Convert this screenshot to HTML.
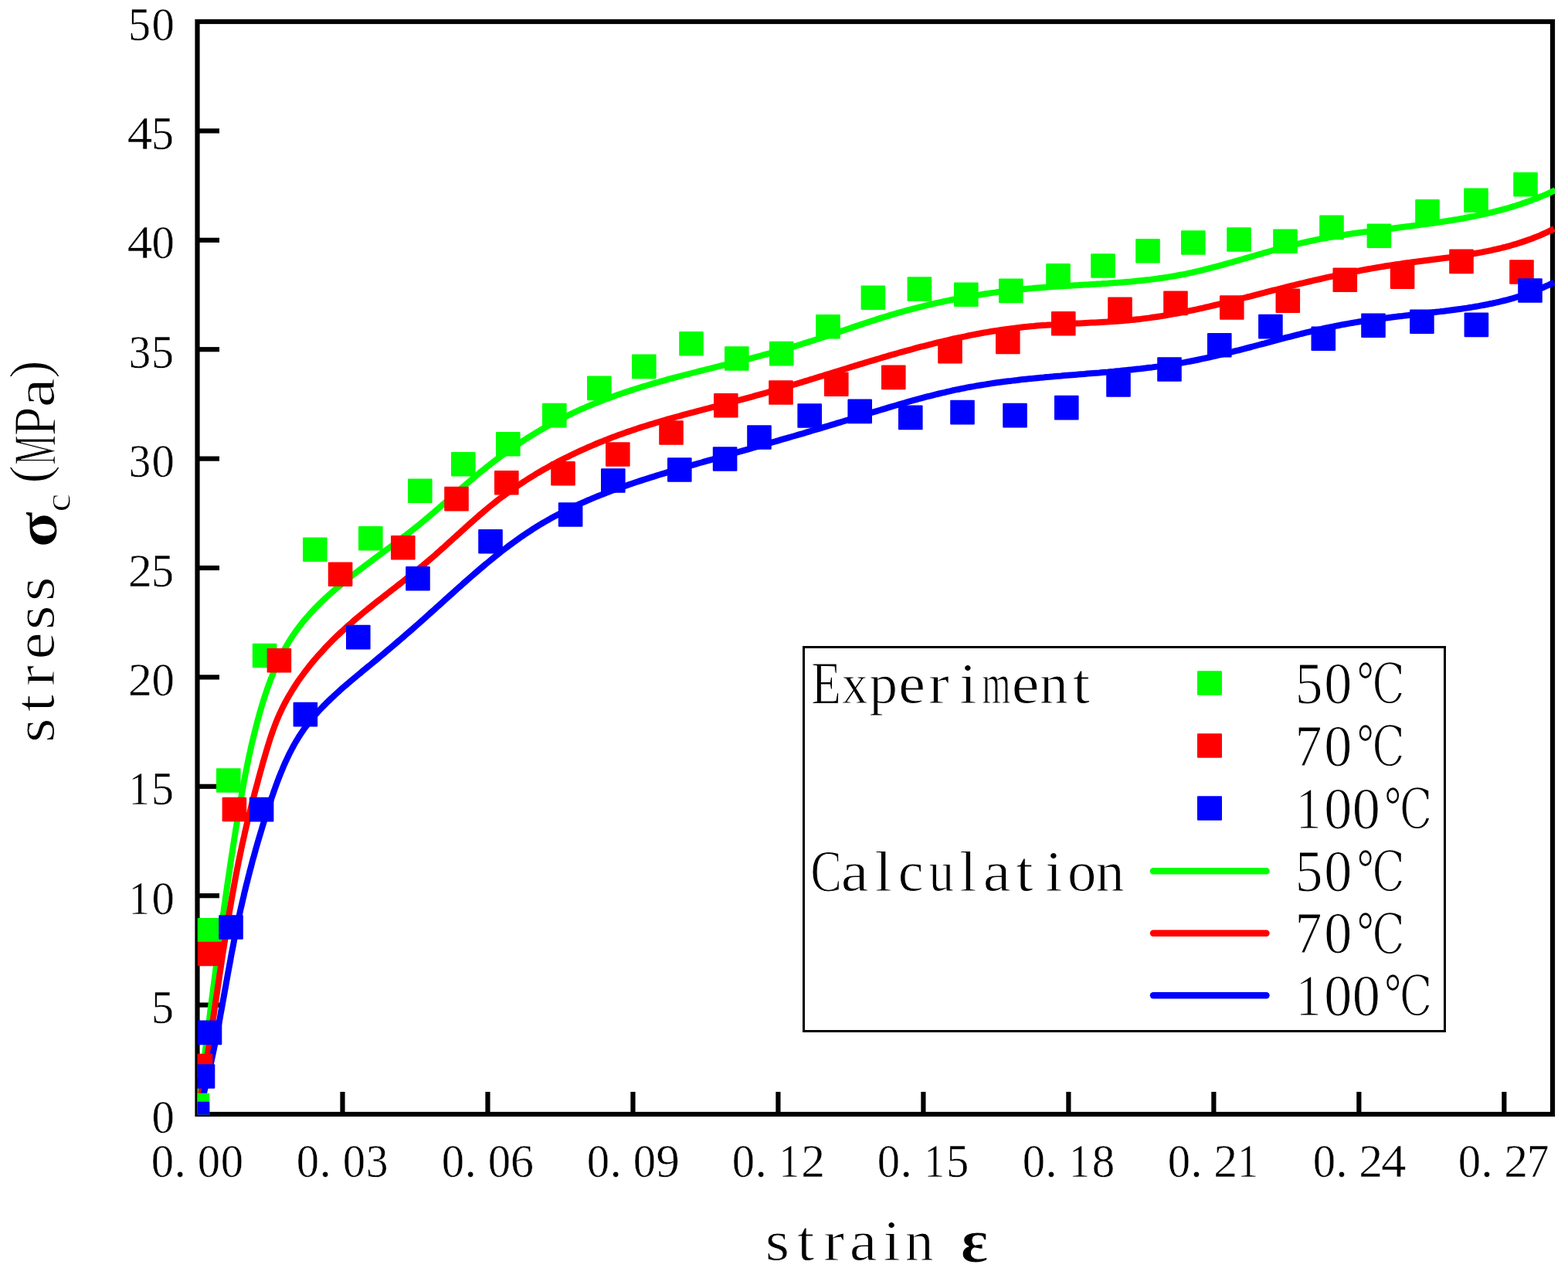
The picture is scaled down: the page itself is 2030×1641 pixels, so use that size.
<!DOCTYPE html>
<html><head><meta charset="utf-8"><title>stress-strain</title><style>html,body{margin:0;padding:0;background:#fff;overflow:hidden}svg{display:block}</style></head><body>
<svg xmlns="http://www.w3.org/2000/svg" width="2030" height="1641" viewBox="0 0 2030 1641">
<rect width="2030" height="1641" fill="#fff"/>
<defs><clipPath id="pc"><rect x="255.5" y="28" width="1757.5" height="1414.5"/></clipPath></defs>
<g><rect x="255.50" y="28" width="1754.50" height="1414" fill="none" stroke="#000" stroke-width="6.20"/><line x1="443.48" y1="1442" x2="443.48" y2="1413" stroke="#000" stroke-width="6.20"/><line x1="631.46" y1="1442" x2="631.46" y2="1413" stroke="#000" stroke-width="6.20"/><line x1="819.45" y1="1442" x2="819.45" y2="1413" stroke="#000" stroke-width="6.20"/><line x1="1007.43" y1="1442" x2="1007.43" y2="1413" stroke="#000" stroke-width="6.20"/><line x1="1195.41" y1="1442" x2="1195.41" y2="1413" stroke="#000" stroke-width="6.20"/><line x1="1383.39" y1="1442" x2="1383.39" y2="1413" stroke="#000" stroke-width="6.20"/><line x1="1571.37" y1="1442" x2="1571.37" y2="1413" stroke="#000" stroke-width="6.20"/><line x1="1759.36" y1="1442" x2="1759.36" y2="1413" stroke="#000" stroke-width="6.20"/><line x1="1947.34" y1="1442" x2="1947.34" y2="1413" stroke="#000" stroke-width="6.20"/><line x1="255.5" y1="1300.60" x2="284" y2="1300.60" stroke="#000" stroke-width="6.20"/><line x1="255.5" y1="1159.20" x2="284" y2="1159.20" stroke="#000" stroke-width="6.20"/><line x1="255.5" y1="1017.80" x2="284" y2="1017.80" stroke="#000" stroke-width="6.20"/><line x1="255.5" y1="876.40" x2="284" y2="876.40" stroke="#000" stroke-width="6.20"/><line x1="255.5" y1="735.00" x2="284" y2="735.00" stroke="#000" stroke-width="6.20"/><line x1="255.5" y1="593.60" x2="284" y2="593.60" stroke="#000" stroke-width="6.20"/><line x1="255.5" y1="452.20" x2="284" y2="452.20" stroke="#000" stroke-width="6.20"/><line x1="255.5" y1="310.80" x2="284" y2="310.80" stroke="#000" stroke-width="6.20"/><line x1="255.5" y1="169.40" x2="284" y2="169.40" stroke="#000" stroke-width="6.20"/></g>
<g clip-path="url(#pc)"><path d="M255.2 1442.0 L255.7 1438.0 L256.2 1434.0 L256.7 1430.0 L257.2 1426.0 L257.8 1422.0 L258.3 1418.0 L258.8 1414.0 L259.3 1410.0 L259.8 1406.0 L260.3 1402.0 L260.9 1398.0 L261.4 1394.0 L261.9 1390.0 L262.4 1386.0 L262.9 1382.1 L263.4 1378.1 L263.9 1374.1 L264.4 1370.1 L264.9 1366.1 L265.5 1362.1 L266.0 1358.1 L266.5 1354.1 L267.0 1350.1 L267.5 1346.1 L268.0 1342.1 L268.5 1338.1 L269.0 1334.1 L269.5 1330.1 L270.0 1326.1 L270.5 1322.1 L271.1 1318.1 L271.6 1314.1 L272.1 1310.1 L272.6 1306.1 L273.1 1302.2 L273.6 1298.2 L274.1 1294.2 L274.7 1290.2 L275.2 1286.2 L275.7 1282.2 L276.2 1278.2 L276.7 1274.2 L277.2 1270.2 L277.8 1266.2 L278.3 1262.2 L278.8 1258.2 L279.3 1254.3 L279.9 1250.3 L280.4 1246.3 L280.9 1242.3 L281.4 1238.3 L282.0 1234.3 L282.5 1230.3 L283.0 1226.3 L283.6 1222.3 L284.1 1218.4 L284.6 1214.4 L285.2 1210.4 L285.7 1206.4 L286.3 1202.4 L286.8 1198.4 L287.4 1194.4 L287.9 1190.5 L288.5 1186.5 L289.0 1182.5 L289.6 1178.5 L290.1 1174.5 L290.7 1170.6 L291.3 1166.6 L291.8 1162.6 L292.4 1158.6 L293.0 1154.6 L293.6 1150.7 L294.1 1146.7 L294.7 1142.7 L295.3 1138.7 L295.9 1134.7 L296.5 1130.8 L297.1 1126.8 L297.6 1122.8 L298.2 1118.8 L298.8 1114.9 L299.4 1110.9 L300.0 1106.9 L300.7 1102.9 L301.3 1099.0 L301.9 1095.0 L302.5 1091.0 L303.1 1087.1 L303.7 1083.1 L304.4 1079.1 L305.0 1075.2 L305.6 1071.2 L306.3 1067.2 L306.9 1063.3 L307.6 1059.3 L308.2 1055.3 L308.9 1051.4 L309.5 1047.4 L310.2 1043.4 L310.9 1039.5 L311.6 1035.5 L312.3 1031.6 L313.0 1027.6 L313.7 1023.7 L314.4 1019.7 L315.1 1015.7 L315.8 1011.8 L316.6 1007.8 L317.3 1003.9 L318.1 999.9 L318.9 996.0 L319.7 992.0 L320.5 988.1 L321.3 984.1 L322.1 980.2 L323.0 976.2 L323.9 972.3 L324.7 968.4 L325.6 964.4 L326.5 960.5 L327.5 956.5 L328.4 952.6 L329.4 948.7 L330.4 944.7 L331.4 940.8 L332.4 936.9 L333.4 932.9 L334.5 929.0 L335.6 925.1 L336.7 921.2 L337.8 917.3 L339.0 913.3 L340.2 909.4 L341.4 905.5 L342.6 901.7 L343.9 897.8 L345.2 893.9 L346.5 890.1 L347.9 886.3 L349.3 882.5 L350.7 878.7 L352.2 874.9 L353.7 871.2 L355.3 867.4 L356.9 863.7 L358.5 860.1 L360.2 856.4 L361.9 852.8 L363.7 849.2 L365.5 845.7 L367.4 842.1 L369.3 838.7 L371.3 835.2 L373.3 831.8 L375.4 828.4 L377.5 825.1 L379.7 821.8 L381.9 818.5 L384.2 815.3 L386.6 812.1 L389.0 809.0 L391.4 805.9 L393.9 802.8 L396.5 799.8 L399.1 796.8 L401.7 793.9 L404.4 791.0 L407.1 788.1 L409.9 785.2 L412.7 782.4 L415.5 779.6 L418.4 776.9 L421.3 774.1 L424.3 771.4 L427.2 768.8 L430.3 766.1 L433.3 763.5 L436.3 760.8 L439.4 758.3 L442.5 755.7 L445.6 753.1 L448.8 750.6 L451.9 748.1 L455.1 745.6 L458.3 743.1 L461.5 740.6 L464.7 738.1 L467.9 735.7 L471.2 733.2 L474.4 730.8 L477.6 728.4 L480.9 726.0 L484.1 723.5 L487.4 721.1 L490.6 718.7 L493.9 716.3 L497.1 713.9 L500.4 711.5 L503.6 709.1 L506.9 706.7 L510.1 704.3 L513.3 701.8 L516.5 699.4 L519.8 697.0 L523.0 694.5 L526.2 692.1 L529.3 689.6 L532.5 687.1 L535.7 684.6 L538.8 682.1 L542.0 679.6 L545.1 677.0 L548.2 674.5 L551.3 671.9 L554.4 669.3 L557.4 666.7 L560.5 664.1 L563.5 661.5 L566.6 658.9 L569.6 656.2 L572.6 653.6 L575.7 651.0 L578.7 648.3 L581.7 645.7 L584.7 643.0 L587.8 640.4 L590.8 637.7 L593.8 635.1 L596.8 632.5 L599.9 629.8 L602.9 627.2 L606.0 624.6 L609.0 622.0 L612.1 619.4 L615.2 616.8 L618.2 614.2 L621.3 611.6 L624.4 609.1 L627.6 606.6 L630.7 604.0 L633.9 601.6 L637.0 599.1 L640.2 596.6 L643.4 594.2 L646.7 591.8 L649.9 589.4 L653.2 587.0 L656.4 584.7 L659.7 582.3 L663.0 580.0 L666.4 577.8 L669.7 575.5 L673.1 573.3 L676.4 571.0 L679.8 568.9 L683.2 566.7 L686.6 564.6 L690.1 562.4 L693.5 560.3 L697.0 558.3 L700.4 556.2 L703.9 554.2 L707.4 552.2 L710.9 550.3 L714.5 548.3 L718.0 546.4 L721.6 544.6 L725.1 542.7 L728.7 540.9 L732.3 539.1 L735.9 537.3 L739.5 535.6 L743.2 533.8 L746.8 532.2 L750.4 530.5 L754.1 528.9 L757.8 527.3 L761.5 525.7 L765.1 524.2 L768.8 522.6 L772.6 521.1 L776.3 519.7 L780.0 518.2 L783.8 516.8 L787.5 515.4 L791.3 514.0 L795.0 512.7 L798.8 511.3 L802.6 510.0 L806.4 508.7 L810.2 507.4 L814.0 506.2 L817.8 504.9 L821.6 503.7 L825.4 502.5 L829.3 501.3 L833.1 500.1 L837.0 499.0 L840.8 497.8 L844.7 496.7 L848.5 495.6 L852.4 494.5 L856.3 493.4 L860.2 492.3 L864.0 491.2 L867.9 490.2 L871.8 489.1 L875.7 488.1 L879.6 487.0 L883.5 486.0 L887.4 485.0 L891.3 484.0 L895.2 483.0 L899.1 482.0 L903.0 481.0 L907.0 480.0 L910.9 479.0 L914.8 478.0 L918.7 477.1 L922.6 476.1 L926.6 475.1 L930.5 474.1 L934.4 473.1 L938.3 472.2 L942.2 471.2 L946.2 470.2 L950.1 469.2 L954.0 468.3 L957.9 467.3 L961.8 466.3 L965.8 465.3 L969.7 464.3 L973.6 463.3 L977.5 462.3 L981.4 461.3 L985.3 460.3 L989.2 459.2 L993.1 458.2 L997.0 457.1 L1000.9 456.1 L1004.8 455.0 L1008.7 453.9 L1012.6 452.8 L1016.4 451.7 L1020.3 450.6 L1024.2 449.5 L1028.1 448.4 L1031.9 447.2 L1035.8 446.0 L1039.6 444.8 L1043.4 443.6 L1047.3 442.4 L1051.1 441.2 L1054.9 440.0 L1058.8 438.7 L1062.6 437.5 L1066.4 436.2 L1070.2 435.0 L1074.0 433.7 L1077.8 432.4 L1081.6 431.1 L1085.5 429.8 L1089.3 428.5 L1093.1 427.3 L1096.9 426.0 L1100.7 424.7 L1104.5 423.4 L1108.3 422.1 L1112.1 420.9 L1115.9 419.6 L1119.7 418.3 L1123.5 417.1 L1127.3 415.8 L1131.2 414.6 L1135.0 413.4 L1138.8 412.1 L1142.6 410.9 L1146.5 409.8 L1150.3 408.6 L1154.1 407.4 L1158.0 406.3 L1161.8 405.2 L1165.7 404.1 L1169.6 403.0 L1173.4 401.9 L1177.3 400.8 L1181.2 399.8 L1185.1 398.8 L1189.0 397.8 L1192.9 396.8 L1196.8 395.9 L1200.7 394.9 L1204.6 394.0 L1208.5 393.1 L1212.4 392.2 L1216.4 391.3 L1220.3 390.5 L1224.2 389.6 L1228.2 388.8 L1232.1 388.0 L1236.1 387.2 L1240.0 386.4 L1244.0 385.7 L1247.9 385.0 L1251.9 384.2 L1255.8 383.5 L1259.8 382.9 L1263.8 382.2 L1267.8 381.6 L1271.7 380.9 L1275.7 380.3 L1279.7 379.7 L1283.7 379.1 L1287.7 378.6 L1291.7 378.0 L1295.7 377.5 L1299.7 377.0 L1303.7 376.5 L1307.7 376.0 L1311.7 375.6 L1315.7 375.1 L1319.7 374.7 L1323.7 374.3 L1327.8 373.9 L1331.8 373.5 L1335.8 373.2 L1339.8 372.8 L1343.9 372.5 L1347.9 372.2 L1351.9 371.9 L1355.9 371.6 L1360.0 371.3 L1364.0 371.0 L1368.0 370.8 L1372.0 370.5 L1376.1 370.3 L1380.1 370.0 L1384.1 369.8 L1388.2 369.5 L1392.2 369.3 L1396.2 369.1 L1400.3 368.8 L1404.3 368.6 L1408.3 368.4 L1412.3 368.1 L1416.4 367.9 L1420.4 367.6 L1424.4 367.4 L1428.4 367.1 L1432.5 366.9 L1436.5 366.6 L1440.5 366.3 L1444.5 366.0 L1448.5 365.7 L1452.5 365.4 L1456.5 365.1 L1460.5 364.7 L1464.5 364.4 L1468.5 364.0 L1472.5 363.6 L1476.5 363.2 L1480.5 362.8 L1484.5 362.3 L1488.5 361.9 L1492.5 361.4 L1496.4 360.9 L1500.4 360.3 L1504.4 359.8 L1508.3 359.2 L1512.3 358.6 L1516.2 357.9 L1520.2 357.3 L1524.1 356.5 L1528.1 355.8 L1532.0 355.1 L1535.9 354.3 L1539.9 353.4 L1543.8 352.6 L1547.7 351.7 L1551.6 350.8 L1555.5 349.9 L1559.4 348.9 L1563.3 347.9 L1567.2 346.9 L1571.1 345.9 L1575.0 344.9 L1578.8 343.8 L1582.7 342.8 L1586.6 341.7 L1590.5 340.6 L1594.4 339.5 L1598.3 338.4 L1602.1 337.3 L1606.0 336.2 L1609.9 335.0 L1613.8 333.9 L1617.6 332.8 L1621.5 331.7 L1625.4 330.5 L1629.3 329.4 L1633.2 328.3 L1637.0 327.2 L1640.9 326.1 L1644.8 325.0 L1648.7 323.9 L1652.6 322.8 L1656.5 321.7 L1660.4 320.7 L1664.3 319.7 L1668.2 318.6 L1672.1 317.6 L1676.0 316.7 L1679.9 315.7 L1683.8 314.8 L1687.8 313.9 L1691.7 313.0 L1695.6 312.1 L1699.6 311.3 L1703.5 310.5 L1707.5 309.7 L1711.4 308.9 L1715.4 308.2 L1719.4 307.5 L1723.3 306.8 L1727.3 306.1 L1731.3 305.4 L1735.3 304.8 L1739.3 304.1 L1743.2 303.5 L1747.2 302.9 L1751.2 302.3 L1755.2 301.8 L1759.2 301.2 L1763.2 300.6 L1767.2 300.1 L1771.2 299.6 L1775.2 299.0 L1779.2 298.5 L1783.2 298.0 L1787.2 297.5 L1791.2 297.0 L1795.2 296.5 L1799.2 296.0 L1803.2 295.5 L1807.2 295.0 L1811.2 294.5 L1815.2 294.0 L1819.2 293.5 L1823.2 293.0 L1827.2 292.5 L1831.2 292.0 L1835.2 291.5 L1839.2 290.9 L1843.2 290.4 L1847.2 289.9 L1851.2 289.3 L1855.2 288.8 L1859.1 288.2 L1863.1 287.6 L1867.1 287.0 L1871.0 286.4 L1875.0 285.8 L1879.0 285.2 L1882.9 284.5 L1886.9 283.9 L1890.8 283.2 L1894.8 282.5 L1898.7 281.7 L1902.6 281.0 L1906.6 280.2 L1910.5 279.4 L1914.4 278.6 L1918.3 277.8 L1922.2 276.9 L1926.1 276.0 L1930.0 275.1 L1933.9 274.1 L1937.7 273.2 L1941.6 272.2 L1945.5 271.1 L1949.3 270.1 L1953.2 269.0 L1957.0 267.8 L1960.8 266.7 L1964.6 265.5 L1968.4 264.2 L1972.2 262.9 L1976.0 261.6 L1979.8 260.3 L1983.6 258.9 L1987.3 257.4 L1991.1 256.0 L1994.8 254.4 L1998.6 252.9 L2002.3 251.3 L2006.0 249.6 L2009.7 247.9 L2013.4 246.2" fill="none" stroke="#00ff00" stroke-width="8.0" stroke-linejoin="round"/><path d="M255.2 1441.9 L256.0 1438.1 L256.7 1434.2 L257.5 1430.4 L258.2 1426.5 L258.9 1422.7 L259.6 1418.8 L260.3 1415.0 L261.0 1411.1 L261.7 1407.2 L262.3 1403.4 L263.0 1399.5 L263.7 1395.6 L264.3 1391.8 L265.0 1387.9 L265.6 1384.0 L266.3 1380.2 L266.9 1376.3 L267.5 1372.4 L268.2 1368.6 L268.8 1364.7 L269.4 1360.8 L270.0 1356.9 L270.6 1353.1 L271.2 1349.2 L271.8 1345.3 L272.4 1341.4 L273.0 1337.5 L273.6 1333.6 L274.2 1329.8 L274.8 1325.9 L275.4 1322.0 L276.0 1318.1 L276.6 1314.2 L277.1 1310.3 L277.7 1306.5 L278.3 1302.6 L278.9 1298.7 L279.4 1294.8 L280.0 1290.9 L280.6 1287.0 L281.2 1283.1 L281.7 1279.2 L282.3 1275.4 L282.9 1271.5 L283.5 1267.6 L284.0 1263.7 L284.6 1259.8 L285.2 1255.9 L285.8 1252.0 L286.3 1248.2 L286.9 1244.3 L287.5 1240.4 L288.1 1236.5 L288.7 1232.6 L289.3 1228.7 L289.9 1224.9 L290.5 1221.0 L291.1 1217.1 L291.7 1213.2 L292.3 1209.3 L292.9 1205.5 L293.5 1201.6 L294.2 1197.7 L294.8 1193.8 L295.4 1190.0 L296.1 1186.1 L296.7 1182.2 L297.3 1178.4 L298.0 1174.5 L298.7 1170.6 L299.3 1166.8 L300.0 1162.9 L300.7 1159.0 L301.4 1155.2 L302.1 1151.3 L302.8 1147.5 L303.5 1143.6 L304.2 1139.8 L304.9 1135.9 L305.6 1132.1 L306.4 1128.2 L307.1 1124.4 L307.9 1120.5 L308.6 1116.7 L309.4 1112.9 L310.2 1109.0 L311.0 1105.2 L311.8 1101.4 L312.6 1097.6 L313.4 1093.7 L314.3 1089.9 L315.1 1086.1 L316.0 1082.3 L316.8 1078.5 L317.7 1074.7 L318.6 1070.9 L319.5 1067.0 L320.4 1063.2 L321.3 1059.4 L322.3 1055.6 L323.2 1051.8 L324.2 1048.1 L325.1 1044.3 L326.1 1040.5 L327.1 1036.7 L328.0 1032.9 L329.0 1029.1 L330.0 1025.3 L331.0 1021.5 L332.1 1017.7 L333.1 1013.9 L334.1 1010.1 L335.1 1006.3 L336.2 1002.4 L337.2 998.6 L338.3 994.8 L339.3 991.0 L340.4 987.2 L341.5 983.4 L342.6 979.6 L343.7 975.8 L344.8 972.0 L346.0 968.2 L347.1 964.4 L348.3 960.6 L349.5 956.8 L350.8 953.0 L352.0 949.3 L353.3 945.6 L354.7 941.9 L356.1 938.2 L357.5 934.5 L359.0 930.9 L360.5 927.3 L362.1 923.7 L363.8 920.2 L365.4 916.6 L367.2 913.2 L369.0 909.7 L370.8 906.3 L372.7 902.9 L374.7 899.5 L376.7 896.2 L378.7 892.8 L380.8 889.5 L382.9 886.3 L385.0 883.0 L387.2 879.8 L389.5 876.7 L391.8 873.5 L394.1 870.4 L396.4 867.3 L398.8 864.2 L401.3 861.1 L403.7 858.1 L406.2 855.1 L408.8 852.1 L411.3 849.2 L413.9 846.3 L416.6 843.4 L419.2 840.5 L421.9 837.6 L424.6 834.8 L427.3 832.0 L430.1 829.2 L432.9 826.4 L435.7 823.7 L438.5 821.0 L441.4 818.3 L444.3 815.6 L447.2 813.0 L450.1 810.3 L453.0 807.7 L456.0 805.2 L458.9 802.6 L461.9 800.0 L464.9 797.5 L467.9 795.0 L470.9 792.5 L474.0 790.0 L477.0 787.5 L480.1 785.1 L483.1 782.6 L486.2 780.2 L489.3 777.7 L492.4 775.3 L495.5 772.9 L498.6 770.5 L501.7 768.0 L504.8 765.6 L507.9 763.2 L511.0 760.8 L514.1 758.4 L517.2 756.0 L520.3 753.5 L523.4 751.1 L526.4 748.7 L529.5 746.2 L532.6 743.8 L535.7 741.3 L538.7 738.9 L541.8 736.4 L544.8 733.9 L547.9 731.4 L550.9 728.9 L553.9 726.4 L556.9 723.8 L559.9 721.2 L562.9 718.7 L565.8 716.1 L568.8 713.4 L571.7 710.8 L574.7 708.2 L577.6 705.6 L580.5 702.9 L583.4 700.3 L586.3 697.6 L589.3 695.0 L592.2 692.3 L595.1 689.7 L598.0 687.0 L600.9 684.4 L603.8 681.7 L606.8 679.1 L609.7 676.5 L612.6 673.9 L615.6 671.3 L618.6 668.7 L621.5 666.1 L624.5 663.6 L627.5 661.0 L630.5 658.5 L633.5 656.0 L636.6 653.5 L639.6 651.1 L642.7 648.6 L645.8 646.2 L648.9 643.9 L652.1 641.5 L655.2 639.2 L658.4 636.9 L661.6 634.6 L664.8 632.4 L668.0 630.1 L671.2 627.9 L674.5 625.8 L677.8 623.6 L681.1 621.5 L684.4 619.4 L687.7 617.3 L691.0 615.3 L694.4 613.2 L697.8 611.2 L701.1 609.3 L704.5 607.3 L708.0 605.4 L711.4 603.5 L714.8 601.6 L718.3 599.7 L721.8 597.9 L725.2 596.1 L728.7 594.3 L732.2 592.5 L735.8 590.8 L739.3 589.0 L742.8 587.3 L746.4 585.7 L749.9 584.0 L753.5 582.4 L757.1 580.8 L760.7 579.2 L764.3 577.6 L767.9 576.1 L771.5 574.5 L775.1 573.0 L778.8 571.6 L782.4 570.1 L786.1 568.7 L789.7 567.2 L793.4 565.8 L797.1 564.5 L800.8 563.1 L804.5 561.8 L808.2 560.4 L811.9 559.1 L815.6 557.9 L819.3 556.6 L823.0 555.4 L826.7 554.1 L830.4 552.9 L834.2 551.7 L837.9 550.6 L841.7 549.4 L845.4 548.3 L849.2 547.1 L852.9 546.0 L856.7 544.9 L860.4 543.8 L864.2 542.7 L868.0 541.6 L871.7 540.6 L875.5 539.5 L879.3 538.5 L883.1 537.4 L886.8 536.4 L890.6 535.4 L894.4 534.4 L898.2 533.4 L902.0 532.3 L905.8 531.3 L909.6 530.3 L913.4 529.3 L917.2 528.4 L921.0 527.4 L924.8 526.4 L928.5 525.4 L932.3 524.4 L936.1 523.4 L939.9 522.4 L943.7 521.4 L947.5 520.4 L951.3 519.4 L955.1 518.4 L958.9 517.4 L962.7 516.4 L966.5 515.3 L970.3 514.3 L974.1 513.3 L977.9 512.2 L981.7 511.2 L985.4 510.1 L989.2 509.1 L993.0 508.0 L996.8 506.9 L1000.6 505.8 L1004.3 504.7 L1008.1 503.6 L1011.9 502.5 L1015.6 501.4 L1019.4 500.2 L1023.2 499.1 L1026.9 498.0 L1030.7 496.9 L1034.5 495.7 L1038.2 494.6 L1042.0 493.4 L1045.8 492.3 L1049.5 491.1 L1053.3 490.0 L1057.0 488.8 L1060.8 487.6 L1064.6 486.5 L1068.3 485.3 L1072.1 484.2 L1075.8 483.0 L1079.6 481.8 L1083.4 480.7 L1087.1 479.5 L1090.9 478.4 L1094.6 477.2 L1098.4 476.0 L1102.1 474.9 L1105.9 473.7 L1109.7 472.6 L1113.4 471.4 L1117.2 470.3 L1120.9 469.2 L1124.7 468.0 L1128.5 466.9 L1132.2 465.8 L1136.0 464.7 L1139.8 463.5 L1143.5 462.4 L1147.3 461.3 L1151.1 460.2 L1154.8 459.2 L1158.6 458.1 L1162.4 457.0 L1166.1 455.9 L1169.9 454.9 L1173.7 453.8 L1177.5 452.8 L1181.3 451.8 L1185.0 450.7 L1188.8 449.7 L1192.6 448.7 L1196.4 447.8 L1200.2 446.8 L1204.0 445.8 L1207.8 444.9 L1211.6 443.9 L1215.4 443.0 L1219.2 442.1 L1223.0 441.2 L1226.8 440.3 L1230.6 439.4 L1234.4 438.5 L1238.2 437.7 L1242.0 436.9 L1245.9 436.1 L1249.7 435.3 L1253.5 434.5 L1257.4 433.7 L1261.2 433.0 L1265.0 432.2 L1268.9 431.5 L1272.7 430.8 L1276.6 430.1 L1280.4 429.5 L1284.3 428.8 L1288.1 428.2 L1292.0 427.6 L1295.9 427.0 L1299.7 426.4 L1303.6 425.9 L1307.5 425.4 L1311.4 424.9 L1315.3 424.4 L1319.1 423.9 L1323.0 423.5 L1326.9 423.1 L1330.8 422.7 L1334.8 422.3 L1338.7 422.0 L1342.6 421.6 L1346.5 421.3 L1350.4 421.0 L1354.4 420.8 L1358.3 420.5 L1362.2 420.3 L1366.2 420.0 L1370.1 419.8 L1374.0 419.6 L1378.0 419.4 L1381.9 419.2 L1385.9 419.0 L1389.8 418.8 L1393.8 418.6 L1397.7 418.4 L1401.7 418.2 L1405.6 418.0 L1409.6 417.8 L1413.5 417.6 L1417.4 417.4 L1421.4 417.2 L1425.3 417.0 L1429.3 416.8 L1433.2 416.6 L1437.2 416.3 L1441.1 416.0 L1445.0 415.8 L1448.9 415.5 L1452.9 415.2 L1456.8 414.8 L1460.7 414.5 L1464.6 414.1 L1468.5 413.7 L1472.4 413.3 L1476.3 412.9 L1480.2 412.4 L1484.1 411.9 L1488.0 411.4 L1491.9 410.8 L1495.8 410.3 L1499.6 409.7 L1503.5 409.1 L1507.4 408.5 L1511.2 407.8 L1515.1 407.1 L1518.9 406.4 L1522.8 405.7 L1526.6 405.0 L1530.5 404.2 L1534.3 403.5 L1538.2 402.7 L1542.0 401.9 L1545.8 401.1 L1549.6 400.3 L1553.5 399.4 L1557.3 398.6 L1561.1 397.7 L1564.9 396.8 L1568.8 395.9 L1572.6 395.0 L1576.4 394.1 L1580.2 393.2 L1584.0 392.2 L1587.8 391.3 L1591.6 390.3 L1595.4 389.4 L1599.2 388.4 L1603.0 387.5 L1606.8 386.5 L1610.7 385.5 L1614.5 384.5 L1618.3 383.6 L1622.1 382.6 L1625.9 381.6 L1629.7 380.6 L1633.5 379.6 L1637.3 378.7 L1641.1 377.7 L1644.9 376.7 L1648.7 375.7 L1652.5 374.8 L1656.3 373.8 L1660.1 372.8 L1663.9 371.9 L1667.7 370.9 L1671.5 370.0 L1675.3 369.1 L1679.1 368.1 L1682.9 367.2 L1686.8 366.3 L1690.6 365.4 L1694.4 364.5 L1698.2 363.6 L1702.0 362.7 L1705.8 361.8 L1709.7 361.0 L1713.5 360.1 L1717.3 359.2 L1721.1 358.4 L1725.0 357.6 L1728.8 356.7 L1732.6 355.9 L1736.5 355.1 L1740.3 354.3 L1744.1 353.5 L1748.0 352.7 L1751.8 352.0 L1755.7 351.2 L1759.5 350.5 L1763.4 349.7 L1767.2 349.0 L1771.1 348.3 L1774.9 347.6 L1778.8 346.9 L1782.7 346.3 L1786.5 345.6 L1790.4 345.0 L1794.3 344.3 L1798.1 343.7 L1802.0 343.1 L1805.9 342.5 L1809.8 341.9 L1813.7 341.4 L1817.6 340.8 L1821.4 340.3 L1825.3 339.8 L1829.2 339.2 L1833.1 338.7 L1837.0 338.2 L1840.9 337.7 L1844.8 337.2 L1848.7 336.7 L1852.6 336.2 L1856.5 335.7 L1860.4 335.2 L1864.3 334.7 L1868.2 334.2 L1872.1 333.7 L1876.0 333.2 L1879.9 332.6 L1883.8 332.1 L1887.7 331.5 L1891.6 330.9 L1895.4 330.3 L1899.3 329.7 L1903.2 329.1 L1907.0 328.5 L1910.9 327.8 L1914.7 327.1 L1918.6 326.4 L1922.4 325.6 L1926.3 324.9 L1930.1 324.1 L1933.9 323.2 L1937.7 322.4 L1941.5 321.5 L1945.3 320.5 L1949.1 319.6 L1952.9 318.6 L1956.7 317.5 L1960.4 316.4 L1964.2 315.3 L1967.9 314.1 L1971.6 312.9 L1975.4 311.6 L1979.1 310.3 L1982.8 309.0 L1986.4 307.6 L1990.1 306.1 L1993.8 304.6 L1997.4 303.0 L2001.0 301.4 L2004.7 299.7 L2008.3 297.9 L2011.9 296.1" fill="none" stroke="#ff0000" stroke-width="8.0" stroke-linejoin="round"/><path d="M256.3 1442.1 L257.4 1438.5 L258.4 1434.8 L259.5 1431.2 L260.5 1427.5 L261.5 1423.8 L262.4 1420.2 L263.4 1416.5 L264.4 1412.8 L265.3 1409.2 L266.2 1405.5 L267.1 1401.8 L268.0 1398.1 L268.9 1394.5 L269.7 1390.8 L270.6 1387.1 L271.4 1383.4 L272.2 1379.7 L273.0 1376.0 L273.9 1372.3 L274.6 1368.6 L275.4 1364.9 L276.2 1361.2 L277.0 1357.5 L277.7 1353.8 L278.5 1350.1 L279.2 1346.4 L279.9 1342.7 L280.6 1338.9 L281.4 1335.2 L282.1 1331.5 L282.8 1327.8 L283.5 1324.1 L284.2 1320.4 L284.9 1316.6 L285.5 1312.9 L286.2 1309.2 L286.9 1305.5 L287.6 1301.7 L288.2 1298.0 L288.9 1294.3 L289.6 1290.5 L290.3 1286.8 L290.9 1283.1 L291.6 1279.4 L292.3 1275.6 L292.9 1271.9 L293.6 1268.2 L294.3 1264.4 L294.9 1260.7 L295.6 1257.0 L296.3 1253.2 L297.0 1249.5 L297.7 1245.8 L298.4 1242.0 L299.0 1238.3 L299.7 1234.6 L300.4 1230.9 L301.2 1227.1 L301.9 1223.4 L302.6 1219.7 L303.3 1215.9 L304.1 1212.2 L304.8 1208.5 L305.6 1204.8 L306.3 1201.0 L307.1 1197.3 L307.9 1193.6 L308.7 1189.9 L309.5 1186.1 L310.3 1182.4 L311.1 1178.7 L311.9 1175.0 L312.8 1171.3 L313.6 1167.6 L314.5 1163.8 L315.4 1160.1 L316.2 1156.4 L317.1 1152.7 L318.0 1149.0 L318.9 1145.3 L319.9 1141.6 L320.8 1137.9 L321.7 1134.2 L322.7 1130.5 L323.6 1126.8 L324.6 1123.1 L325.6 1119.4 L326.5 1115.7 L327.5 1112.0 L328.6 1108.4 L329.6 1104.7 L330.6 1101.0 L331.6 1097.3 L332.7 1093.6 L333.7 1090.0 L334.8 1086.3 L335.9 1082.6 L337.0 1079.0 L338.1 1075.3 L339.2 1071.6 L340.3 1068.0 L341.4 1064.3 L342.6 1060.7 L343.7 1057.0 L344.9 1053.4 L346.0 1049.8 L347.2 1046.1 L348.4 1042.5 L349.6 1038.9 L350.8 1035.2 L352.0 1031.6 L353.3 1028.0 L354.5 1024.4 L355.8 1020.8 L357.1 1017.2 L358.4 1013.6 L359.7 1010.1 L361.1 1006.5 L362.5 1003.0 L363.9 999.5 L365.4 996.0 L366.8 992.5 L368.3 989.0 L369.9 985.5 L371.5 982.1 L373.1 978.7 L374.7 975.3 L376.5 972.0 L378.2 968.7 L380.0 965.3 L381.8 962.1 L383.7 958.8 L385.7 955.6 L387.6 952.4 L389.7 949.3 L391.8 946.2 L393.9 943.1 L396.2 940.1 L398.4 937.0 L400.8 934.1 L403.1 931.1 L405.6 928.2 L408.0 925.4 L410.6 922.5 L413.1 919.7 L415.7 916.9 L418.4 914.1 L421.1 911.4 L423.8 908.7 L426.6 906.0 L429.3 903.4 L432.2 900.7 L435.0 898.1 L437.9 895.5 L440.7 892.9 L443.6 890.3 L446.6 887.8 L449.5 885.2 L452.5 882.7 L455.4 880.2 L458.4 877.7 L461.4 875.2 L464.4 872.7 L467.4 870.3 L470.3 867.8 L473.3 865.4 L476.3 862.9 L479.3 860.5 L482.3 858.0 L485.2 855.6 L488.2 853.1 L491.1 850.7 L494.0 848.2 L496.9 845.8 L499.8 843.4 L502.7 840.9 L505.6 838.5 L508.5 836.0 L511.3 833.6 L514.2 831.1 L517.1 828.7 L519.9 826.2 L522.8 823.8 L525.6 821.3 L528.4 818.9 L531.3 816.4 L534.1 813.9 L536.9 811.4 L539.7 809.0 L542.6 806.5 L545.4 804.0 L548.2 801.5 L551.0 799.0 L553.8 796.5 L556.6 793.9 L559.5 791.4 L562.3 788.9 L565.1 786.3 L568.0 783.8 L570.8 781.2 L573.6 778.7 L576.5 776.1 L579.3 773.6 L582.1 771.0 L585.0 768.4 L587.9 765.9 L590.7 763.3 L593.6 760.8 L596.5 758.2 L599.3 755.6 L602.2 753.1 L605.1 750.5 L608.0 748.0 L610.9 745.5 L613.8 742.9 L616.8 740.4 L619.7 737.9 L622.6 735.4 L625.6 732.9 L628.5 730.4 L631.5 728.0 L634.5 725.5 L637.4 723.1 L640.4 720.7 L643.4 718.3 L646.5 715.9 L649.5 713.5 L652.5 711.2 L655.6 708.8 L658.6 706.5 L661.7 704.2 L664.8 702.0 L667.9 699.7 L671.0 697.5 L674.1 695.3 L677.3 693.1 L680.4 691.0 L683.6 688.9 L686.8 686.8 L690.0 684.7 L693.2 682.7 L696.4 680.7 L699.7 678.7 L702.9 676.8 L706.2 674.9 L709.5 673.0 L712.8 671.1 L716.1 669.3 L719.4 667.5 L722.8 665.7 L726.1 664.0 L729.5 662.2 L732.9 660.6 L736.3 658.9 L739.7 657.2 L743.1 655.6 L746.5 654.0 L749.9 652.4 L753.4 650.9 L756.9 649.4 L760.3 647.8 L763.8 646.4 L767.3 644.9 L770.8 643.4 L774.3 642.0 L777.8 640.6 L781.4 639.2 L784.9 637.8 L788.4 636.5 L792.0 635.1 L795.6 633.8 L799.1 632.5 L802.7 631.2 L806.3 630.0 L809.9 628.7 L813.5 627.4 L817.1 626.2 L820.7 625.0 L824.3 623.8 L827.9 622.6 L831.5 621.4 L835.2 620.2 L838.8 619.1 L842.5 617.9 L846.1 616.8 L849.7 615.7 L853.4 614.5 L857.0 613.4 L860.7 612.3 L864.4 611.2 L868.0 610.1 L871.7 609.1 L875.4 608.0 L879.0 606.9 L882.7 605.8 L886.4 604.8 L890.0 603.7 L893.7 602.7 L897.4 601.6 L901.0 600.6 L904.7 599.5 L908.4 598.5 L912.1 597.4 L915.7 596.4 L919.4 595.3 L923.1 594.3 L926.7 593.2 L930.4 592.2 L934.1 591.2 L937.7 590.1 L941.4 589.1 L945.0 588.0 L948.7 587.0 L952.4 586.0 L956.0 584.9 L959.7 583.9 L963.3 582.8 L967.0 581.8 L970.7 580.8 L974.3 579.7 L978.0 578.7 L981.6 577.6 L985.3 576.6 L988.9 575.5 L992.6 574.5 L996.3 573.5 L999.9 572.4 L1003.6 571.4 L1007.2 570.3 L1010.9 569.2 L1014.5 568.2 L1018.2 567.1 L1021.8 566.1 L1025.5 565.0 L1029.1 564.0 L1032.8 562.9 L1036.4 561.8 L1040.1 560.8 L1043.7 559.7 L1047.4 558.6 L1051.0 557.5 L1054.6 556.5 L1058.3 555.4 L1061.9 554.3 L1065.6 553.2 L1069.2 552.1 L1072.9 551.0 L1076.5 549.9 L1080.2 548.8 L1083.8 547.7 L1087.5 546.6 L1091.1 545.5 L1094.8 544.4 L1098.4 543.3 L1102.0 542.2 L1105.7 541.1 L1109.3 539.9 L1113.0 538.8 L1116.6 537.7 L1120.3 536.6 L1123.9 535.5 L1127.6 534.3 L1131.2 533.2 L1134.9 532.1 L1138.5 531.0 L1142.2 529.9 L1145.8 528.8 L1149.5 527.7 L1153.1 526.6 L1156.8 525.5 L1160.4 524.5 L1164.1 523.4 L1167.8 522.3 L1171.4 521.3 L1175.1 520.2 L1178.8 519.2 L1182.4 518.2 L1186.1 517.2 L1189.8 516.2 L1193.5 515.2 L1197.1 514.2 L1200.8 513.2 L1204.5 512.3 L1208.2 511.3 L1211.9 510.4 L1215.6 509.5 L1219.3 508.6 L1223.0 507.8 L1226.7 506.9 L1230.4 506.1 L1234.1 505.2 L1237.8 504.4 L1241.5 503.7 L1245.3 502.9 L1249.0 502.2 L1252.7 501.4 L1256.4 500.7 L1260.2 500.1 L1263.9 499.4 L1267.7 498.8 L1271.4 498.2 L1275.2 497.6 L1278.9 497.0 L1282.7 496.4 L1286.4 495.8 L1290.2 495.3 L1294.0 494.8 L1297.7 494.3 L1301.5 493.8 L1305.3 493.3 L1309.1 492.9 L1312.9 492.4 L1316.6 492.0 L1320.4 491.5 L1324.2 491.1 L1328.0 490.7 L1331.8 490.3 L1335.6 489.9 L1339.4 489.6 L1343.2 489.2 L1347.0 488.8 L1350.8 488.5 L1354.6 488.1 L1358.4 487.8 L1362.2 487.4 L1366.0 487.1 L1369.8 486.8 L1373.6 486.5 L1377.4 486.1 L1381.2 485.8 L1385.0 485.5 L1388.8 485.2 L1392.6 484.9 L1396.4 484.6 L1400.2 484.3 L1404.0 484.0 L1407.9 483.6 L1411.7 483.3 L1415.5 483.0 L1419.3 482.7 L1423.1 482.4 L1426.9 482.0 L1430.7 481.7 L1434.5 481.4 L1438.3 481.0 L1442.1 480.7 L1445.9 480.3 L1449.7 480.0 L1453.5 479.6 L1457.3 479.2 L1461.1 478.8 L1464.9 478.4 L1468.7 478.0 L1472.5 477.6 L1476.3 477.2 L1480.0 476.7 L1483.8 476.3 L1487.6 475.8 L1491.4 475.4 L1495.2 474.9 L1498.9 474.4 L1502.7 473.8 L1506.5 473.3 L1510.2 472.8 L1514.0 472.2 L1517.8 471.6 L1521.5 471.0 L1525.3 470.4 L1529.0 469.7 L1532.8 469.1 L1536.5 468.4 L1540.3 467.7 L1544.0 467.0 L1547.7 466.3 L1551.5 465.5 L1555.2 464.7 L1558.9 463.9 L1562.6 463.1 L1566.3 462.3 L1570.1 461.4 L1573.8 460.6 L1577.5 459.7 L1581.2 458.8 L1584.9 457.9 L1588.6 457.0 L1592.3 456.1 L1596.0 455.2 L1599.7 454.2 L1603.4 453.3 L1607.1 452.3 L1610.8 451.4 L1614.5 450.4 L1618.1 449.5 L1621.8 448.5 L1625.5 447.5 L1629.2 446.5 L1632.9 445.5 L1636.6 444.6 L1640.3 443.6 L1644.0 442.6 L1647.6 441.6 L1651.3 440.6 L1655.0 439.7 L1658.7 438.7 L1662.4 437.7 L1666.1 436.7 L1669.8 435.8 L1673.5 434.8 L1677.2 433.9 L1680.9 433.0 L1684.6 432.0 L1688.3 431.1 L1692.0 430.2 L1695.7 429.3 L1699.4 428.4 L1703.1 427.6 L1706.8 426.7 L1710.5 425.9 L1714.2 425.0 L1717.9 424.2 L1721.7 423.4 L1725.4 422.7 L1729.1 421.9 L1732.8 421.2 L1736.6 420.4 L1740.3 419.8 L1744.1 419.1 L1747.8 418.4 L1751.6 417.8 L1755.3 417.1 L1759.1 416.5 L1762.8 415.9 L1766.6 415.4 L1770.3 414.8 L1774.1 414.3 L1777.9 413.7 L1781.6 413.2 L1785.4 412.7 L1789.2 412.2 L1793.0 411.7 L1796.8 411.2 L1800.5 410.7 L1804.3 410.2 L1808.1 409.8 L1811.9 409.3 L1815.7 408.9 L1819.5 408.4 L1823.3 408.0 L1827.0 407.5 L1830.8 407.1 L1834.6 406.7 L1838.4 406.2 L1842.2 405.8 L1846.0 405.4 L1849.8 404.9 L1853.6 404.5 L1857.4 404.0 L1861.2 403.6 L1865.0 403.1 L1868.8 402.7 L1872.6 402.2 L1876.4 401.7 L1880.1 401.2 L1883.9 400.7 L1887.7 400.2 L1891.5 399.7 L1895.3 399.1 L1899.0 398.6 L1902.8 398.0 L1906.6 397.4 L1910.3 396.7 L1914.1 396.1 L1917.8 395.4 L1921.5 394.7 L1925.3 394.0 L1929.0 393.2 L1932.7 392.5 L1936.4 391.7 L1940.1 390.8 L1943.8 389.9 L1947.5 389.0 L1951.2 388.1 L1954.8 387.1 L1958.5 386.1 L1962.1 385.0 L1965.8 383.9 L1969.4 382.8 L1973.0 381.6 L1976.6 380.4 L1980.2 379.1 L1983.7 377.8 L1987.3 376.4 L1990.9 375.0 L1994.4 373.5 L1997.9 372.0 L2001.4 370.4 L2004.9 368.8 L2008.4 367.1 L2011.8 365.3" fill="none" stroke="#0000ff" stroke-width="8.0" stroke-linejoin="round"/><rect x="239.7" y="1414.7" width="31.6" height="31.6" rx="1" fill="#00ff00"/><rect x="255.4" y="1187.9" width="31.6" height="31.6" rx="1" fill="#00ff00"/><rect x="280.0" y="994.2" width="31.6" height="31.6" rx="1" fill="#00ff00"/><rect x="326.8" y="832.7" width="31.6" height="31.6" rx="1" fill="#00ff00"/><rect x="392.0" y="695.4" width="31.6" height="31.6" rx="1" fill="#00ff00"/><rect x="464.0" y="681.0" width="31.6" height="31.6" rx="1" fill="#00ff00"/><rect x="528.0" y="619.4" width="31.6" height="31.6" rx="1" fill="#00ff00"/><rect x="584.0" y="585.0" width="31.6" height="31.6" rx="1" fill="#00ff00"/><rect x="642.0" y="559.0" width="31.6" height="31.6" rx="1" fill="#00ff00"/><rect x="702.0" y="521.8" width="31.6" height="31.6" rx="1" fill="#00ff00"/><rect x="760.0" y="486.6" width="31.6" height="31.6" rx="1" fill="#00ff00"/><rect x="818.0" y="458.6" width="31.6" height="31.6" rx="1" fill="#00ff00"/><rect x="879.2" y="429.0" width="31.6" height="31.6" rx="1" fill="#00ff00"/><rect x="938.0" y="448.2" width="31.6" height="31.6" rx="1" fill="#00ff00"/><rect x="996.0" y="441.8" width="31.6" height="31.6" rx="1" fill="#00ff00"/><rect x="1056.2" y="407.0" width="31.6" height="31.6" rx="1" fill="#00ff00"/><rect x="1114.6" y="369.4" width="31.6" height="31.6" rx="1" fill="#00ff00"/><rect x="1174.6" y="358.2" width="31.6" height="31.6" rx="1" fill="#00ff00"/><rect x="1235.0" y="365.4" width="31.6" height="31.6" rx="1" fill="#00ff00"/><rect x="1293.0" y="360.6" width="31.6" height="31.6" rx="1" fill="#00ff00"/><rect x="1354.2" y="341.0" width="31.6" height="31.6" rx="1" fill="#00ff00"/><rect x="1412.2" y="328.2" width="31.6" height="31.6" rx="1" fill="#00ff00"/><rect x="1470.2" y="309.0" width="31.6" height="31.6" rx="1" fill="#00ff00"/><rect x="1529.0" y="298.2" width="31.6" height="31.6" rx="1" fill="#00ff00"/><rect x="1588.2" y="294.2" width="31.6" height="31.6" rx="1" fill="#00ff00"/><rect x="1648.2" y="296.4" width="31.6" height="31.6" rx="1" fill="#00ff00"/><rect x="1708.2" y="278.6" width="31.6" height="31.6" rx="1" fill="#00ff00"/><rect x="1769.6" y="289.5" width="31.6" height="31.6" rx="1" fill="#00ff00"/><rect x="1832.2" y="257.9" width="31.6" height="31.6" rx="1" fill="#00ff00"/><rect x="1895.2" y="243.4" width="31.6" height="31.6" rx="1" fill="#00ff00"/><rect x="1959.2" y="223.0" width="31.6" height="31.6" rx="1" fill="#00ff00"/><rect x="243.7" y="1363.7" width="31.6" height="31.6" rx="1" fill="#ff0000"/><rect x="255.7" y="1218.7" width="31.6" height="31.6" rx="1" fill="#ff0000"/><rect x="287.6" y="1031.7" width="31.6" height="31.6" rx="1" fill="#ff0000"/><rect x="345.6" y="839.0" width="31.6" height="31.6" rx="1" fill="#ff0000"/><rect x="424.8" y="727.4" width="31.6" height="31.6" rx="1" fill="#ff0000"/><rect x="506.0" y="693.0" width="31.6" height="31.6" rx="1" fill="#ff0000"/><rect x="575.2" y="629.8" width="31.6" height="31.6" rx="1" fill="#ff0000"/><rect x="640.0" y="609.0" width="31.6" height="31.6" rx="1" fill="#ff0000"/><rect x="713.2" y="597.0" width="31.6" height="31.6" rx="1" fill="#ff0000"/><rect x="784.0" y="572.2" width="31.6" height="31.6" rx="1" fill="#ff0000"/><rect x="853.2" y="544.2" width="31.6" height="31.6" rx="1" fill="#ff0000"/><rect x="924.0" y="509.0" width="31.6" height="31.6" rx="1" fill="#ff0000"/><rect x="995.2" y="492.2" width="31.6" height="31.6" rx="1" fill="#ff0000"/><rect x="1067.0" y="481.4" width="31.6" height="31.6" rx="1" fill="#ff0000"/><rect x="1141.0" y="472.6" width="31.6" height="31.6" rx="1" fill="#ff0000"/><rect x="1214.2" y="439.0" width="31.6" height="31.6" rx="1" fill="#ff0000"/><rect x="1289.0" y="426.6" width="31.6" height="31.6" rx="1" fill="#ff0000"/><rect x="1361.0" y="403.0" width="31.6" height="31.6" rx="1" fill="#ff0000"/><rect x="1434.2" y="384.6" width="31.6" height="31.6" rx="1" fill="#ff0000"/><rect x="1506.2" y="376.6" width="31.6" height="31.6" rx="1" fill="#ff0000"/><rect x="1579.0" y="382.2" width="31.6" height="31.6" rx="1" fill="#ff0000"/><rect x="1651.5" y="373.5" width="31.6" height="31.6" rx="1" fill="#ff0000"/><rect x="1725.5" y="346.5" width="31.6" height="31.6" rx="1" fill="#ff0000"/><rect x="1799.8" y="342.5" width="31.6" height="31.6" rx="1" fill="#ff0000"/><rect x="1876.2" y="322.6" width="31.6" height="31.6" rx="1" fill="#ff0000"/><rect x="1954.2" y="336.2" width="31.6" height="31.6" rx="1" fill="#ff0000"/><rect x="239.7" y="1425.7" width="31.6" height="31.6" rx="1" fill="#0000ff"/><rect x="246.7" y="1377.2" width="31.6" height="31.6" rx="1" fill="#0000ff"/><rect x="255.7" y="1320.6" width="31.6" height="31.6" rx="1" fill="#0000ff"/><rect x="283.2" y="1184.2" width="31.6" height="31.6" rx="1" fill="#0000ff"/><rect x="322.8" y="1031.8" width="31.6" height="31.6" rx="1" fill="#0000ff"/><rect x="379.6" y="908.8" width="31.6" height="31.6" rx="1" fill="#0000ff"/><rect x="448.0" y="808.8" width="31.6" height="31.6" rx="1" fill="#0000ff"/><rect x="525.2" y="733.0" width="31.6" height="31.6" rx="1" fill="#0000ff"/><rect x="619.2" y="685.0" width="31.6" height="31.6" rx="1" fill="#0000ff"/><rect x="722.8" y="650.2" width="31.6" height="31.6" rx="1" fill="#0000ff"/><rect x="778.0" y="606.2" width="31.6" height="31.6" rx="1" fill="#0000ff"/><rect x="864.0" y="592.2" width="31.6" height="31.6" rx="1" fill="#0000ff"/><rect x="922.8" y="578.2" width="31.6" height="31.6" rx="1" fill="#0000ff"/><rect x="967.2" y="550.2" width="31.6" height="31.6" rx="1" fill="#0000ff"/><rect x="1032.4" y="522.2" width="31.6" height="31.6" rx="1" fill="#0000ff"/><rect x="1097.4" y="516.6" width="31.6" height="31.6" rx="1" fill="#0000ff"/><rect x="1163.0" y="524.6" width="31.6" height="31.6" rx="1" fill="#0000ff"/><rect x="1230.2" y="517.8" width="31.6" height="31.6" rx="1" fill="#0000ff"/><rect x="1298.2" y="521.8" width="31.6" height="31.6" rx="1" fill="#0000ff"/><rect x="1365.0" y="511.8" width="31.6" height="31.6" rx="1" fill="#0000ff"/><rect x="1432.2" y="482.2" width="31.6" height="31.6" rx="1" fill="#0000ff"/><rect x="1498.2" y="462.2" width="31.6" height="31.6" rx="1" fill="#0000ff"/><rect x="1563.0" y="431.0" width="31.6" height="31.6" rx="1" fill="#0000ff"/><rect x="1629.1" y="406.8" width="31.6" height="31.6" rx="1" fill="#0000ff"/><rect x="1697.5" y="422.4" width="31.6" height="31.6" rx="1" fill="#0000ff"/><rect x="1762.2" y="405.5" width="31.6" height="31.6" rx="1" fill="#0000ff"/><rect x="1825.1" y="400.4" width="31.6" height="31.6" rx="1" fill="#0000ff"/><rect x="1895.6" y="404.6" width="31.6" height="31.6" rx="1" fill="#0000ff"/><rect x="1965.2" y="360.2" width="31.6" height="31.6" rx="1" fill="#0000ff"/></g>
<g font-size="100" fill="#000"><text transform="matrix(0.5871 0.0000 0.0000 0.6180 196.42 1465.50)" font-family='"Liberation Serif", "Noto Serif CJK SC", serif' stroke="#fff" stroke-width="0.83">0</text><text transform="matrix(0.5809 0.0000 0.0000 0.6180 196.02 1324.10)" font-family='"Liberation Serif", "Noto Serif CJK SC", serif' stroke="#fff" stroke-width="0.83">5</text><text transform="matrix(0.5315 0.0000 0.0000 0.6180 167.07 1182.70)" font-family='"Liberation Serif", "Noto Serif CJK SC", serif' stroke="#fff" stroke-width="0.87">1</text><text transform="matrix(0.5871 0.0000 0.0000 0.6180 196.42 1182.70)" font-family='"Liberation Serif", "Noto Serif CJK SC", serif' stroke="#fff" stroke-width="0.83">0</text><text transform="matrix(0.5315 0.0000 0.0000 0.6180 167.07 1041.30)" font-family='"Liberation Serif", "Noto Serif CJK SC", serif' stroke="#fff" stroke-width="0.87">1</text><text transform="matrix(0.5809 0.0000 0.0000 0.6180 196.02 1041.30)" font-family='"Liberation Serif", "Noto Serif CJK SC", serif' stroke="#fff" stroke-width="0.83">5</text><text transform="matrix(0.6180 0.0000 0.0000 0.6180 166.00 899.90)" font-family='"Liberation Serif", "Noto Serif CJK SC", serif' stroke="#fff" stroke-width="0.81">2</text><text transform="matrix(0.5871 0.0000 0.0000 0.6180 196.42 899.90)" font-family='"Liberation Serif", "Noto Serif CJK SC", serif' stroke="#fff" stroke-width="0.83">0</text><text transform="matrix(0.6180 0.0000 0.0000 0.6180 166.00 758.50)" font-family='"Liberation Serif", "Noto Serif CJK SC", serif' stroke="#fff" stroke-width="0.81">2</text><text transform="matrix(0.5809 0.0000 0.0000 0.6180 196.02 758.50)" font-family='"Liberation Serif", "Noto Serif CJK SC", serif' stroke="#fff" stroke-width="0.83">5</text><text transform="matrix(0.5686 0.0000 0.0000 0.6180 166.64 617.10)" font-family='"Liberation Serif", "Noto Serif CJK SC", serif' stroke="#fff" stroke-width="0.84">3</text><text transform="matrix(0.5871 0.0000 0.0000 0.6180 196.42 617.10)" font-family='"Liberation Serif", "Noto Serif CJK SC", serif' stroke="#fff" stroke-width="0.83">0</text><text transform="matrix(0.5686 0.0000 0.0000 0.6180 166.64 475.70)" font-family='"Liberation Serif", "Noto Serif CJK SC", serif' stroke="#fff" stroke-width="0.84">3</text><text transform="matrix(0.5809 0.0000 0.0000 0.6180 196.02 475.70)" font-family='"Liberation Serif", "Noto Serif CJK SC", serif' stroke="#fff" stroke-width="0.83">5</text><text transform="matrix(0.6489 0.0000 0.0000 0.6180 164.75 334.30)" font-family='"Liberation Serif", "Noto Serif CJK SC", serif' stroke="#fff" stroke-width="0.79">4</text><text transform="matrix(0.5871 0.0000 0.0000 0.6180 196.42 334.30)" font-family='"Liberation Serif", "Noto Serif CJK SC", serif' stroke="#fff" stroke-width="0.83">0</text><text transform="matrix(0.6489 0.0000 0.0000 0.6180 164.75 192.90)" font-family='"Liberation Serif", "Noto Serif CJK SC", serif' stroke="#fff" stroke-width="0.79">4</text><text transform="matrix(0.5809 0.0000 0.0000 0.6180 196.02 192.90)" font-family='"Liberation Serif", "Noto Serif CJK SC", serif' stroke="#fff" stroke-width="0.83">5</text><text transform="matrix(0.5809 0.0000 0.0000 0.6180 166.02 51.50)" font-family='"Liberation Serif", "Noto Serif CJK SC", serif' stroke="#fff" stroke-width="0.83">5</text><text transform="matrix(0.5871 0.0000 0.0000 0.6180 196.42 51.50)" font-family='"Liberation Serif", "Noto Serif CJK SC", serif' stroke="#fff" stroke-width="0.83">0</text><text transform="matrix(0.5871 0.0000 0.0000 0.6180 195.82 1522.70)" font-family='"Liberation Serif", "Noto Serif CJK SC", serif' stroke="#fff" stroke-width="0.83">0</text><text transform="matrix(0.6180 0.0000 0.0000 0.6180 225.47 1522.70)" font-family='"Liberation Serif", "Noto Serif CJK SC", serif' stroke="#fff" stroke-width="0.81">.</text><text transform="matrix(0.5871 0.0000 0.0000 0.6180 255.82 1522.70)" font-family='"Liberation Serif", "Noto Serif CJK SC", serif' stroke="#fff" stroke-width="0.83">0</text><text transform="matrix(0.5871 0.0000 0.0000 0.6180 285.82 1522.70)" font-family='"Liberation Serif", "Noto Serif CJK SC", serif' stroke="#fff" stroke-width="0.83">0</text><text transform="matrix(0.5871 0.0000 0.0000 0.6180 383.80 1522.70)" font-family='"Liberation Serif", "Noto Serif CJK SC", serif' stroke="#fff" stroke-width="0.83">0</text><text transform="matrix(0.6180 0.0000 0.0000 0.6180 413.46 1522.70)" font-family='"Liberation Serif", "Noto Serif CJK SC", serif' stroke="#fff" stroke-width="0.81">.</text><text transform="matrix(0.5871 0.0000 0.0000 0.6180 443.80 1522.70)" font-family='"Liberation Serif", "Noto Serif CJK SC", serif' stroke="#fff" stroke-width="0.83">0</text><text transform="matrix(0.5686 0.0000 0.0000 0.6180 474.02 1522.70)" font-family='"Liberation Serif", "Noto Serif CJK SC", serif' stroke="#fff" stroke-width="0.84">3</text><text transform="matrix(0.5871 0.0000 0.0000 0.6180 571.79 1522.70)" font-family='"Liberation Serif", "Noto Serif CJK SC", serif' stroke="#fff" stroke-width="0.83">0</text><text transform="matrix(0.6180 0.0000 0.0000 0.6180 601.44 1522.70)" font-family='"Liberation Serif", "Noto Serif CJK SC", serif' stroke="#fff" stroke-width="0.81">.</text><text transform="matrix(0.5871 0.0000 0.0000 0.6180 631.79 1522.70)" font-family='"Liberation Serif", "Noto Serif CJK SC", serif' stroke="#fff" stroke-width="0.83">0</text><text transform="matrix(0.5995 0.0000 0.0000 0.6180 661.08 1522.70)" font-family='"Liberation Serif", "Noto Serif CJK SC", serif' stroke="#fff" stroke-width="0.82">6</text><text transform="matrix(0.5871 0.0000 0.0000 0.6180 759.77 1522.70)" font-family='"Liberation Serif", "Noto Serif CJK SC", serif' stroke="#fff" stroke-width="0.83">0</text><text transform="matrix(0.6180 0.0000 0.0000 0.6180 789.42 1522.70)" font-family='"Liberation Serif", "Noto Serif CJK SC", serif' stroke="#fff" stroke-width="0.81">.</text><text transform="matrix(0.5871 0.0000 0.0000 0.6180 819.77 1522.70)" font-family='"Liberation Serif", "Noto Serif CJK SC", serif' stroke="#fff" stroke-width="0.83">0</text><text transform="matrix(0.6056 0.0000 0.0000 0.6180 849.57 1522.70)" font-family='"Liberation Serif", "Noto Serif CJK SC", serif' stroke="#fff" stroke-width="0.82">9</text><text transform="matrix(0.5871 0.0000 0.0000 0.6180 947.75 1522.70)" font-family='"Liberation Serif", "Noto Serif CJK SC", serif' stroke="#fff" stroke-width="0.83">0</text><text transform="matrix(0.6180 0.0000 0.0000 0.6180 977.40 1522.70)" font-family='"Liberation Serif", "Noto Serif CJK SC", serif' stroke="#fff" stroke-width="0.81">.</text><text transform="matrix(0.5315 0.0000 0.0000 0.6180 1008.40 1522.70)" font-family='"Liberation Serif", "Noto Serif CJK SC", serif' stroke="#fff" stroke-width="0.87">1</text><text transform="matrix(0.6180 0.0000 0.0000 0.6180 1037.33 1522.70)" font-family='"Liberation Serif", "Noto Serif CJK SC", serif' stroke="#fff" stroke-width="0.81">2</text><text transform="matrix(0.5871 0.0000 0.0000 0.6180 1135.73 1522.70)" font-family='"Liberation Serif", "Noto Serif CJK SC", serif' stroke="#fff" stroke-width="0.83">0</text><text transform="matrix(0.6180 0.0000 0.0000 0.6180 1165.39 1522.70)" font-family='"Liberation Serif", "Noto Serif CJK SC", serif' stroke="#fff" stroke-width="0.81">.</text><text transform="matrix(0.5315 0.0000 0.0000 0.6180 1196.38 1522.70)" font-family='"Liberation Serif", "Noto Serif CJK SC", serif' stroke="#fff" stroke-width="0.87">1</text><text transform="matrix(0.5809 0.0000 0.0000 0.6180 1225.33 1522.70)" font-family='"Liberation Serif", "Noto Serif CJK SC", serif' stroke="#fff" stroke-width="0.83">5</text><text transform="matrix(0.5871 0.0000 0.0000 0.6180 1323.72 1522.70)" font-family='"Liberation Serif", "Noto Serif CJK SC", serif' stroke="#fff" stroke-width="0.83">0</text><text transform="matrix(0.6180 0.0000 0.0000 0.6180 1353.37 1522.70)" font-family='"Liberation Serif", "Noto Serif CJK SC", serif' stroke="#fff" stroke-width="0.81">.</text><text transform="matrix(0.5315 0.0000 0.0000 0.6180 1384.37 1522.70)" font-family='"Liberation Serif", "Noto Serif CJK SC", serif' stroke="#fff" stroke-width="0.87">1</text><text transform="matrix(0.5902 0.0000 0.0000 0.6180 1413.64 1522.70)" font-family='"Liberation Serif", "Noto Serif CJK SC", serif' stroke="#fff" stroke-width="0.83">8</text><text transform="matrix(0.5871 0.0000 0.0000 0.6180 1511.70 1522.70)" font-family='"Liberation Serif", "Noto Serif CJK SC", serif' stroke="#fff" stroke-width="0.83">0</text><text transform="matrix(0.6180 0.0000 0.0000 0.6180 1541.35 1522.70)" font-family='"Liberation Serif", "Noto Serif CJK SC", serif' stroke="#fff" stroke-width="0.81">.</text><text transform="matrix(0.6180 0.0000 0.0000 0.6180 1571.27 1522.70)" font-family='"Liberation Serif", "Noto Serif CJK SC", serif' stroke="#fff" stroke-width="0.81">2</text><text transform="matrix(0.5315 0.0000 0.0000 0.6180 1602.35 1522.70)" font-family='"Liberation Serif", "Noto Serif CJK SC", serif' stroke="#fff" stroke-width="0.87">1</text><text transform="matrix(0.5871 0.0000 0.0000 0.6180 1699.68 1522.70)" font-family='"Liberation Serif", "Noto Serif CJK SC", serif' stroke="#fff" stroke-width="0.83">0</text><text transform="matrix(0.6180 0.0000 0.0000 0.6180 1729.33 1522.70)" font-family='"Liberation Serif", "Noto Serif CJK SC", serif' stroke="#fff" stroke-width="0.81">.</text><text transform="matrix(0.6180 0.0000 0.0000 0.6180 1759.25 1522.70)" font-family='"Liberation Serif", "Noto Serif CJK SC", serif' stroke="#fff" stroke-width="0.81">2</text><text transform="matrix(0.6489 0.0000 0.0000 0.6180 1788.01 1522.70)" font-family='"Liberation Serif", "Noto Serif CJK SC", serif' stroke="#fff" stroke-width="0.79">4</text><text transform="matrix(0.5871 0.0000 0.0000 0.6180 1887.66 1522.70)" font-family='"Liberation Serif", "Noto Serif CJK SC", serif' stroke="#fff" stroke-width="0.83">0</text><text transform="matrix(0.6180 0.0000 0.0000 0.6180 1917.31 1522.70)" font-family='"Liberation Serif", "Noto Serif CJK SC", serif' stroke="#fff" stroke-width="0.81">.</text><text transform="matrix(0.6180 0.0000 0.0000 0.6180 1947.24 1522.70)" font-family='"Liberation Serif", "Noto Serif CJK SC", serif' stroke="#fff" stroke-width="0.81">2</text><text transform="matrix(0.5686 0.0000 0.0000 0.6180 1977.07 1522.70)" font-family='"Liberation Serif", "Noto Serif CJK SC", serif' stroke="#fff" stroke-width="0.84">7</text><text transform="matrix(0.8046 0.0000 0.0000 0.7450 990.80 1631.00)" font-family='"Liberation Serif", "Noto Serif CJK SC", serif' stroke="#fff" stroke-width="1.29">s</text><text transform="matrix(0.8046 0.0000 0.0000 0.7450 1032.02 1631.00)" font-family='"Liberation Serif", "Noto Serif CJK SC", serif' stroke="#fff" stroke-width="1.29">t</text><text transform="matrix(0.8046 0.0000 0.0000 0.7450 1066.15 1631.00)" font-family='"Liberation Serif", "Noto Serif CJK SC", serif' stroke="#fff" stroke-width="1.29">r</text><text transform="matrix(0.8046 0.0000 0.0000 0.7450 1099.68 1631.00)" font-family='"Liberation Serif", "Noto Serif CJK SC", serif' stroke="#fff" stroke-width="1.29">a</text><text transform="matrix(0.8046 0.0000 0.0000 0.7450 1143.39 1631.00)" font-family='"Liberation Serif", "Noto Serif CJK SC", serif' stroke="#fff" stroke-width="1.29">i</text><text transform="matrix(0.7361 0.0000 0.0000 0.7450 1171.81 1631.00)" font-family='"Liberation Serif", "Noto Serif CJK SC", serif' stroke="#fff" stroke-width="1.35">n</text><text transform="matrix(0.8382 0.0000 0.0000 0.8088 1243.71 1632.61)" font-family='"Liberation Serif", "Noto Serif CJK SC", serif' font-weight="bold" stroke="#fff" stroke-width="1.21">ε</text><text transform="matrix(0.0000 -0.8046 0.7450 0.0000 70.00 961.00)" font-family='"Liberation Serif", "Noto Serif CJK SC", serif' stroke="#fff" stroke-width="1.29">s</text><text transform="matrix(0.0000 -0.8046 0.7450 0.0000 70.00 921.13)" font-family='"Liberation Serif", "Noto Serif CJK SC", serif' stroke="#fff" stroke-width="1.29">t</text><text transform="matrix(0.0000 -0.8046 0.7450 0.0000 70.00 887.85)" font-family='"Liberation Serif", "Noto Serif CJK SC", serif' stroke="#fff" stroke-width="1.29">r</text><text transform="matrix(0.0000 -0.7808 0.7450 0.0000 70.00 853.25)" font-family='"Liberation Serif", "Noto Serif CJK SC", serif' stroke="#fff" stroke-width="1.31">e</text><text transform="matrix(0.0000 -0.8046 0.7450 0.0000 70.00 815.00)" font-family='"Liberation Serif", "Noto Serif CJK SC", serif' stroke="#fff" stroke-width="1.29">s</text><text transform="matrix(0.0000 -0.8046 0.7450 0.0000 70.00 778.00)" font-family='"Liberation Serif", "Noto Serif CJK SC", serif' stroke="#fff" stroke-width="1.29">s</text><text transform="matrix(0.0000 -0.8580 0.7543 0.0000 72.66 708.57)" font-family='"Liberation Serif", "Noto Serif CJK SC", serif' font-weight="bold" stroke="#fff" stroke-width="1.24">σ</text><text transform="matrix(0.0000 -0.5360 0.4865 0.0000 90.72 662.54)" font-family='"Liberation Serif", "Noto Serif CJK SC", serif' stroke="#fff" stroke-width="1.96">c</text><text transform="matrix(0.0000 -0.7008 0.7257 0.0000 62.05 625.48)" font-family='"Liberation Serif", "Noto Serif CJK SC", serif' stroke="#fff" stroke-width="1.40">(</text><text transform="matrix(0.0000 -0.4308 0.7789 0.0000 70.50 601.54)" font-family='"Liberation Serif", "Noto Serif CJK SC", serif' stroke="#fff" stroke-width="1.73">M</text><text transform="matrix(0.0000 -0.6792 0.7835 0.0000 70.60 564.26)" font-family='"Liberation Serif", "Noto Serif CJK SC", serif' stroke="#fff" stroke-width="1.37">P</text><text transform="matrix(0.0000 -0.8582 0.7161 0.0000 69.90 527.32)" font-family='"Liberation Serif", "Noto Serif CJK SC", serif' stroke="#fff" stroke-width="1.28">a</text><text transform="matrix(0.0000 -0.7008 0.7268 0.0000 61.83 489.66)" font-family='"Liberation Serif", "Noto Serif CJK SC", serif' stroke="#fff" stroke-width="1.40">)</text></g>
<g font-size="100" fill="#000"><rect x="1040.5" y="837.5" width="830" height="497" fill="#fff" stroke="#000" stroke-width="3"/><text transform="matrix(0.6332 0.0000 0.0000 0.7758 1050.28 910.30)" font-family='"Liberation Serif", "Noto Serif CJK SC", serif' stroke="#fff" stroke-width="1.43">E</text><text transform="matrix(0.6743 0.0000 0.0000 0.7450 1089.81 909.80)" font-family='"Liberation Serif", "Noto Serif CJK SC", serif' stroke="#fff" stroke-width="1.41">x</text><text transform="matrix(0.7306 0.0000 0.0000 0.7450 1125.52 909.80)" font-family='"Liberation Serif", "Noto Serif CJK SC", serif' stroke="#fff" stroke-width="1.36">p</text><text transform="matrix(0.7808 0.0000 0.0000 0.7450 1163.15 909.80)" font-family='"Liberation Serif", "Noto Serif CJK SC", serif' stroke="#fff" stroke-width="1.31">e</text><text transform="matrix(0.8046 0.0000 0.0000 0.7450 1202.00 909.80)" font-family='"Liberation Serif", "Noto Serif CJK SC", serif' stroke="#fff" stroke-width="1.29">r</text><text transform="matrix(0.8046 0.0000 0.0000 0.7450 1242.19 909.80)" font-family='"Liberation Serif", "Noto Serif CJK SC", serif' stroke="#fff" stroke-width="1.29">i</text><text transform="matrix(0.4789 0.0000 0.0000 0.7450 1271.29 909.80)" font-family='"Liberation Serif", "Noto Serif CJK SC", serif' stroke="#fff" stroke-width="1.67">m</text><text transform="matrix(0.8046 0.0000 0.0000 0.7450 1309.77 909.80)" font-family='"Liberation Serif", "Noto Serif CJK SC", serif' stroke="#fff" stroke-width="1.29">e</text><text transform="matrix(0.7339 0.0000 0.0000 0.7450 1346.12 909.80)" font-family='"Liberation Serif", "Noto Serif CJK SC", serif' stroke="#fff" stroke-width="1.35">n</text><text transform="matrix(0.8046 0.0000 0.0000 0.7450 1388.82 909.80)" font-family='"Liberation Serif", "Noto Serif CJK SC", serif' stroke="#fff" stroke-width="1.29">t</text><text transform="matrix(0.6027 0.0000 0.0000 0.7650 1049.53 1153.35)" font-family='"Liberation Serif", "Noto Serif CJK SC", serif' stroke="#fff" stroke-width="1.47">C</text><text transform="matrix(0.8046 0.0000 0.0000 0.7450 1088.63 1152.50)" font-family='"Liberation Serif", "Noto Serif CJK SC", serif' stroke="#fff" stroke-width="1.29">a</text><text transform="matrix(0.8046 0.0000 0.0000 0.7450 1132.62 1152.50)" font-family='"Liberation Serif", "Noto Serif CJK SC", serif' stroke="#fff" stroke-width="1.29">l</text><text transform="matrix(0.7387 0.0000 0.0000 0.7450 1162.79 1152.50)" font-family='"Liberation Serif", "Noto Serif CJK SC", serif' stroke="#fff" stroke-width="1.35">c</text><text transform="matrix(0.6514 0.0000 0.0000 0.7450 1202.44 1152.50)" font-family='"Liberation Serif", "Noto Serif CJK SC", serif' stroke="#fff" stroke-width="1.44">u</text><text transform="matrix(0.8046 0.0000 0.0000 0.7450 1242.22 1152.50)" font-family='"Liberation Serif", "Noto Serif CJK SC", serif' stroke="#fff" stroke-width="1.29">l</text><text transform="matrix(0.8046 0.0000 0.0000 0.7450 1272.73 1152.50)" font-family='"Liberation Serif", "Noto Serif CJK SC", serif' stroke="#fff" stroke-width="1.29">a</text><text transform="matrix(0.8046 0.0000 0.0000 0.7450 1315.22 1152.50)" font-family='"Liberation Serif", "Noto Serif CJK SC", serif' stroke="#fff" stroke-width="1.29">t</text><text transform="matrix(0.8046 0.0000 0.0000 0.7450 1353.14 1152.50)" font-family='"Liberation Serif", "Noto Serif CJK SC", serif' stroke="#fff" stroke-width="1.29">i</text><text transform="matrix(0.7479 0.0000 0.0000 0.7450 1381.95 1152.50)" font-family='"Liberation Serif", "Noto Serif CJK SC", serif' stroke="#fff" stroke-width="1.34">o</text><text transform="matrix(0.7426 0.0000 0.0000 0.7450 1418.60 1152.50)" font-family='"Liberation Serif", "Noto Serif CJK SC", serif' stroke="#fff" stroke-width="1.34">n</text><rect x="1550.0" y="868.2" width="32" height="31.6" rx="1" fill="#00ff00"/><line x1="1493" y1="1127.2" x2="1639.5" y2="1127.2" stroke="#00ff00" stroke-width="8.4" stroke-linecap="round"/><rect x="1550.0" y="949.2" width="32" height="31.6" rx="1" fill="#ff0000"/><line x1="1493" y1="1207.7" x2="1639.5" y2="1207.7" stroke="#ff0000" stroke-width="8.4" stroke-linecap="round"/><rect x="1550.0" y="1030.2" width="32" height="31.6" rx="1" fill="#0000ff"/><line x1="1493" y1="1288.2" x2="1639.5" y2="1288.2" stroke="#0000ff" stroke-width="8.4" stroke-linecap="round"/><text transform="matrix(0.7144 0.0000 0.0000 0.7600 1676.76 909.70)" font-family='"Liberation Serif", "Noto Serif CJK SC", serif' stroke="#fff" stroke-width="1.36">5</text><text transform="matrix(0.7220 0.0000 0.0000 0.7600 1714.15 909.70)" font-family='"Liberation Serif", "Noto Serif CJK SC", serif' stroke="#fff" stroke-width="1.35">0</text><text transform="matrix(0.5572 0.0000 0.0000 0.7219 1756.42 910.08)" font-family='"DejaVu Serif", "Noto Serif CJK SC", serif' stroke="#fff" stroke-width="2.52">℃</text><text transform="matrix(0.6992 0.0000 0.0000 0.7600 1676.52 990.70)" font-family='"Liberation Serif", "Noto Serif CJK SC", serif' stroke="#fff" stroke-width="1.37">7</text><text transform="matrix(0.7220 0.0000 0.0000 0.7600 1714.15 990.70)" font-family='"Liberation Serif", "Noto Serif CJK SC", serif' stroke="#fff" stroke-width="1.35">0</text><text transform="matrix(0.5572 0.0000 0.0000 0.7219 1756.42 991.08)" font-family='"DejaVu Serif", "Noto Serif CJK SC", serif' stroke="#fff" stroke-width="2.52">℃</text><text transform="matrix(0.6536 0.0000 0.0000 0.7600 1677.85 1071.70)" font-family='"Liberation Serif", "Noto Serif CJK SC", serif' stroke="#fff" stroke-width="1.42">1</text><text transform="matrix(0.7220 0.0000 0.0000 0.7600 1714.15 1071.70)" font-family='"Liberation Serif", "Noto Serif CJK SC", serif' stroke="#fff" stroke-width="1.35">0</text><text transform="matrix(0.7220 0.0000 0.0000 0.7600 1750.75 1071.70)" font-family='"Liberation Serif", "Noto Serif CJK SC", serif' stroke="#fff" stroke-width="1.35">0</text><text transform="matrix(0.5572 0.0000 0.0000 0.7219 1792.12 1072.08)" font-family='"DejaVu Serif", "Noto Serif CJK SC", serif' stroke="#fff" stroke-width="2.52">℃</text><text transform="matrix(0.7144 0.0000 0.0000 0.7600 1676.76 1152.70)" font-family='"Liberation Serif", "Noto Serif CJK SC", serif' stroke="#fff" stroke-width="1.36">5</text><text transform="matrix(0.7220 0.0000 0.0000 0.7600 1714.15 1152.70)" font-family='"Liberation Serif", "Noto Serif CJK SC", serif' stroke="#fff" stroke-width="1.35">0</text><text transform="matrix(0.5572 0.0000 0.0000 0.7219 1756.42 1153.08)" font-family='"DejaVu Serif", "Noto Serif CJK SC", serif' stroke="#fff" stroke-width="2.52">℃</text><text transform="matrix(0.6992 0.0000 0.0000 0.7600 1676.52 1233.20)" font-family='"Liberation Serif", "Noto Serif CJK SC", serif' stroke="#fff" stroke-width="1.37">7</text><text transform="matrix(0.7220 0.0000 0.0000 0.7600 1714.15 1233.20)" font-family='"Liberation Serif", "Noto Serif CJK SC", serif' stroke="#fff" stroke-width="1.35">0</text><text transform="matrix(0.5572 0.0000 0.0000 0.7219 1756.42 1233.58)" font-family='"DejaVu Serif", "Noto Serif CJK SC", serif' stroke="#fff" stroke-width="2.52">℃</text><text transform="matrix(0.6536 0.0000 0.0000 0.7600 1677.85 1313.70)" font-family='"Liberation Serif", "Noto Serif CJK SC", serif' stroke="#fff" stroke-width="1.42">1</text><text transform="matrix(0.7220 0.0000 0.0000 0.7600 1714.15 1313.70)" font-family='"Liberation Serif", "Noto Serif CJK SC", serif' stroke="#fff" stroke-width="1.35">0</text><text transform="matrix(0.7220 0.0000 0.0000 0.7600 1750.75 1313.70)" font-family='"Liberation Serif", "Noto Serif CJK SC", serif' stroke="#fff" stroke-width="1.35">0</text><text transform="matrix(0.5572 0.0000 0.0000 0.7219 1792.12 1314.08)" font-family='"DejaVu Serif", "Noto Serif CJK SC", serif' stroke="#fff" stroke-width="2.52">℃</text></g>
</svg>
</body></html>
